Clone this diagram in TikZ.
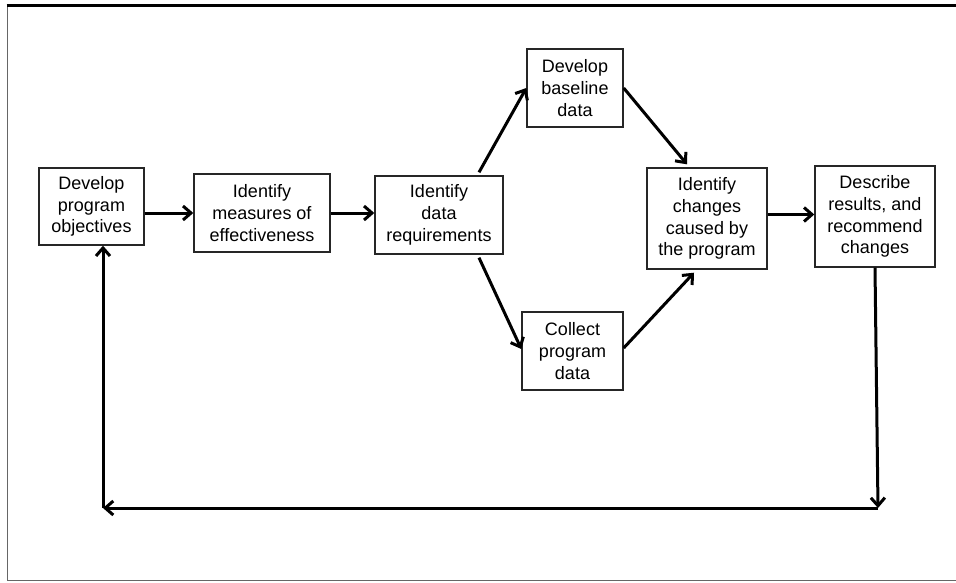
\documentclass[tikz,border=0pt]{standalone}
\usepackage{fontspec}
\setmainfont{Liberation Sans}
\usetikzlibrary{arrows.meta}
\begin{document}
\begin{tikzpicture}[x=1pt,y=-1pt,
  stepbox/.style={draw=black!85, line width=1.4pt, fill=white, align=center,
    inner sep=0pt, font=\fontsize{18}{21.7}\selectfont},
  flow/.style={line width=3pt, black,
    -{Straight Barb[length=8pt,width=14pt,line width=3pt]}},
  plain/.style={line width=3pt, black}]
  % page frame
  \useasboundingbox (0,0) rectangle (956,582);
  \draw[black!60, line width=1.5pt] (7.5,5) -- (7.5,580.5) -- (956,580.5);
  \draw[black, line width=2.6pt] (6.5,5.5) -- (956,5.5);

  % process steps
  \node[stepbox, minimum width=105pt, minimum height=77pt] (objectives) at (91.5,206.5)
    {Develop\\program\\objectives};
  \node[stepbox, minimum width=136pt, minimum height=78pt] (measures) at (262,213)
    {Identify\\measures of\\effectiveness};
  \node[stepbox, minimum width=128pt, minimum height=78pt] (datareq) at (439,215)
    {Identify\\data\\requirements};
  \node[stepbox, minimum width=96pt, minimum height=78pt] (baseline) at (575,88)
    {Develop\\baseline\\data};
  \node[stepbox, minimum width=101pt, minimum height=78pt] (collect) at (572.5,351)
    {Collect\\program\\data};
  \node[stepbox, minimum width=120pt, minimum height=101pt] (changes) at (707,218.5)
    {Identify\\changes\\caused by\\the program};
  \node[stepbox, minimum width=120pt, minimum height=101pt] (describe) at (875,216.5)
    {Describe\\results, and\\recommend\\changes};

  % feedback loop corners
  \coordinate (loopR) at (878,508);
  \coordinate (loopL) at (103,508);

  % connectors
  \draw[flow] (objectives.east |- measures.west) -- (measures.west);
  \draw[flow] (measures.east) -- (measures.east -| datareq.west);
  \draw[flow] ([xshift=40pt,yshift=3pt]datareq.north) -- (baseline.west);
  \draw[flow] ([xshift=40pt,yshift=-3pt]datareq.south) -- ([yshift=2pt]collect.west);
  \draw[flow] (baseline.east) -- ([xshift=-20pt,yshift=3pt]changes.north);
  \draw[flow] ([yshift=3pt]collect.east) -- ([xshift=-13pt,yshift=-3pt]changes.south);
  \draw[flow] ([yshift=4pt]changes.east) -- ([yshift=4pt]changes.east -| describe.west);
  \draw[flow] (describe.south) -- (loopR);
  \draw[flow] (loopR) -- (loopL);
  \draw[flow] (loopL) -- (loopL |- objectives.south);
\end{tikzpicture}
\end{document}
